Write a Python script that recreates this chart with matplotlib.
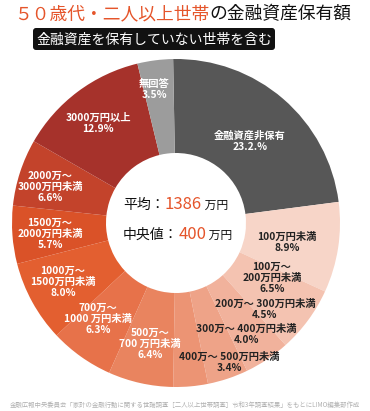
import matplotlib
matplotlib.use('Agg')
import matplotlib.pyplot as plt
from matplotlib.patches import FancyBboxPatch

plt.rcParams['font.family'] = ['Noto Sans CJK JP', 'DejaVu Sans']

# data (clockwise from 12 o'clock)
labels = [
    '金融資産非保有\n23.2.%',
    '100万円未満\n8.9%',
    '100万〜\n200万円未満\n6.5%',
    '200万〜 300万円未満\n4.5%',
    '300万〜 400万円未満\n4.0%',
    '400万〜 500万円未満\n3.4%',
    '500万〜\n700 万円未満\n6.4%',
    '700万〜\n1000 万円未満\n6.3%',
    '1000万〜\n1500万円未満\n8.0%',
    '1500万〜\n2000万円未満\n5.7%',
    '2000万〜\n3000万円未満\n6.6%',
    '3000万円以上\n12.9%',
    '無回答\n3.5%',
]
shares = [23.2, 8.9, 6.5, 4.5, 4.0, 3.4, 6.4, 6.3, 8.0, 5.7, 6.6, 12.9, 3.5]
mean_value = '1386'
median_value = '400'

colors = ['#575757', '#f7d5c8', '#f4c3b1', '#f1b29c', '#eea388', '#ec9474',
          '#e9845f', '#e7724a', '#e35f30', '#da5228', '#c3432b', '#a6322b',
          '#9c9c9c']
label_colors = ['white', '#222222', '#222222', '#222222', '#222222', '#222222',
                'white', 'white', 'white', 'white', 'white', 'white', 'white']
# label block centres in pixel coords (x, y from top)
label_pos = [(250, 141), (287, 242), (272, 278), (265, 309), (246, 334),
             (229, 362), (150, 344), (98, 319), (63, 282), (50, 234),
             (50, 187), (98, 123), (154, 89)]

W, H = 370, 411
ORANGE = '#e5552b'

fig = plt.figure(figsize=(W / 100, H / 100), dpi=100)
ax = fig.add_axes([0, 0, 1, 1])

cx, cy, R, r_in = 176, 223, 164, 70
ax.pie(shares, colors=colors, startangle=91, counterclock=False,
       center=(cx, H - cy), radius=R,
       wedgeprops=dict(width=R - r_in, linewidth=0))
ax.set_xlim(0, W)
ax.set_ylim(0, H)
ax.set_aspect('equal')
ax.axis('off')

for lab, (lx, ly), c in zip(labels, label_pos, label_colors):
    ax.text(lx, H - ly, lab, ha='center', va='center', multialignment='center',
            fontsize=7.4, color=c, fontweight='bold', linespacing=1.12)

renderer = fig.canvas.get_renderer()


def put_parts(x, y, parts):
    for s, color, size in parts:
        t = ax.text(x, H - y, s, color=color, fontsize=size, ha='left',
                    va='baseline')
        x += t.get_window_extent(renderer).width


# title
put_parts(14, 19, [('５０歳代・二人以上世帯', ORANGE, 12.8),
                   ('の金融資産保有額', '#111111', 12.8)])

# subtitle box
box = FancyBboxPatch((33, H - 50), 242, 22,
                     boxstyle='round,pad=0,rounding_size=3',
                     facecolor='#111111', edgecolor='none')
ax.add_patch(box)
ax.text(154, H - 39.5, '金融資産を保有していない世帯を含む', color='white',
        fontsize=10, ha='center', va='center')

# centre texts
put_parts(123, 209, [('平均：', '#111111', 10), (mean_value, ORANGE, 12),
                     (' 万円', '#111111', 8.5)])
put_parts(123, 239, [('中央値：', '#111111', 10), (median_value, ORANGE, 12),
                     (' 万円', '#111111', 8.5)])

# footer
ax.text(185, H - 405, '金融広報中央委員会「家計の金融行動に関する世論調査［二人以上世帯調査］'
        '令和3年調査結果」をもとにLIMO編集部作成',
        color='#b0b0b0', fontsize=4.6, ha='center', va='center')

fig.savefig('out.png', dpi=100)
